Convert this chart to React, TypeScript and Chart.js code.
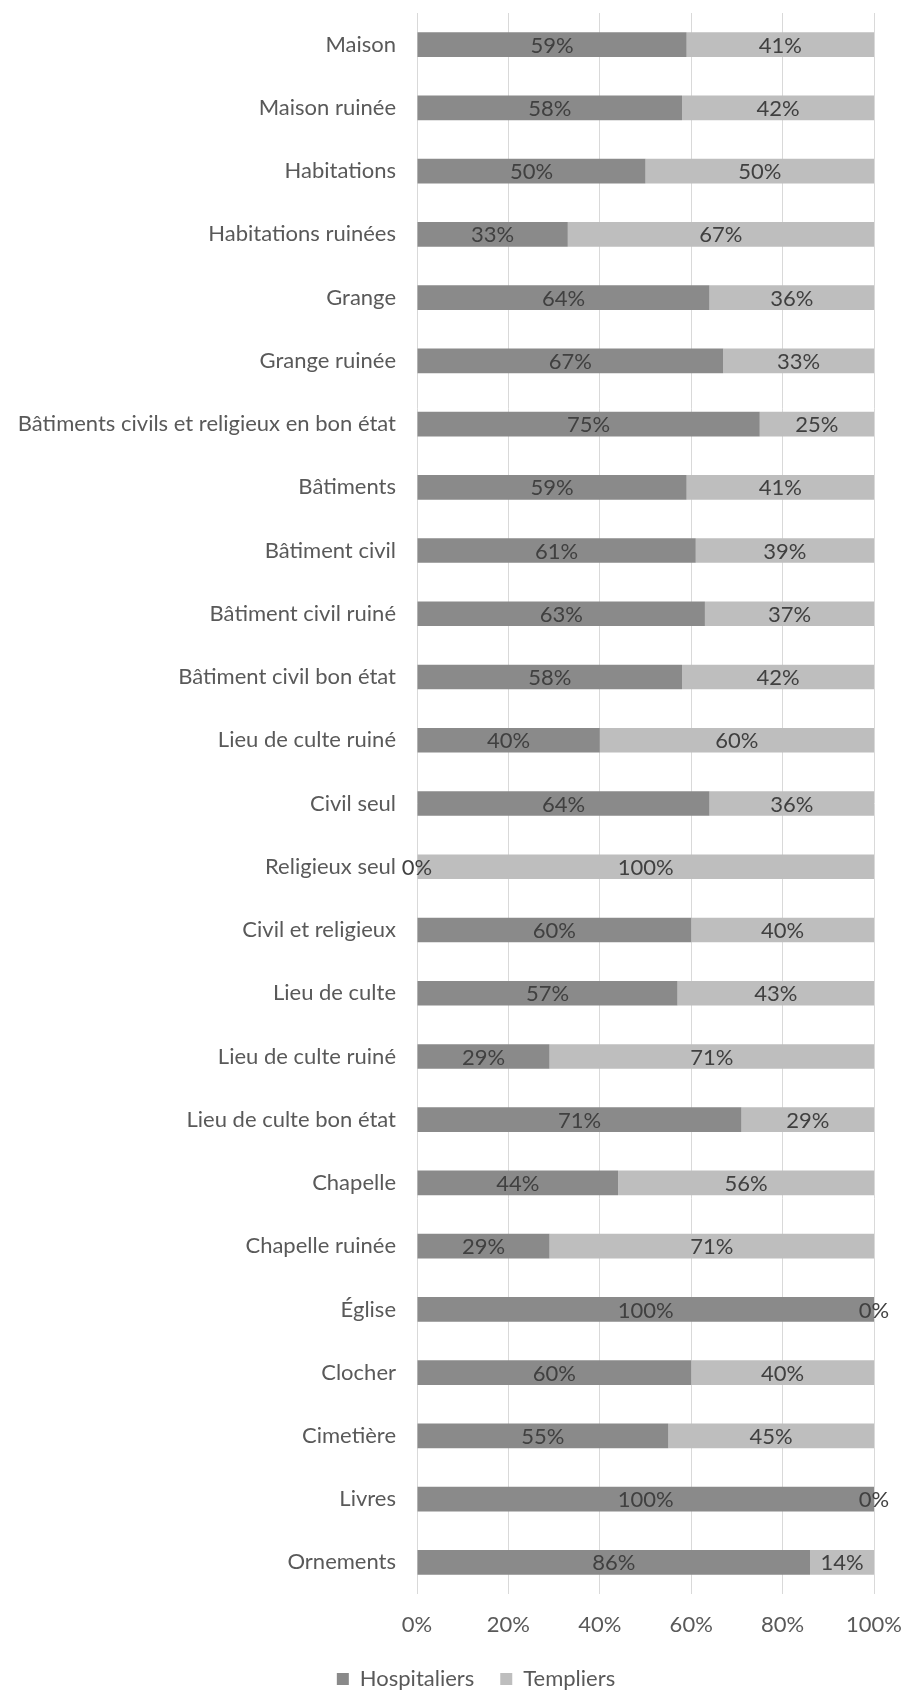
import React, { useEffect, useRef } from 'react';
import { Chart, registerables } from 'chart.js';

Chart.register(...registerables);

const categories = [
  'Maison',
  'Maison ruinée',
  'Habitations',
  'Habitations ruinées',
  'Grange',
  'Grange ruinée',
  'Bâtiments civils et religieux en bon état',
  'Bâtiments',
  'Bâtiment civil',
  'Bâtiment civil ruiné',
  'Bâtiment civil bon état',
  'Lieu de culte ruiné',
  'Civil seul',
  'Religieux seul',
  'Civil et religieux',
  'Lieu de culte',
  'Lieu de culte ruiné',
  'Lieu de culte bon état',
  'Chapelle',
  'Chapelle ruinée',
  'Église',
  'Clocher',
  'Cimetière',
  'Livres',
  'Ornements',
];

const hospitaliers = [59, 58, 50, 33, 64, 67, 75, 59, 61, 63, 58, 40, 64, 0, 60, 57, 29, 71, 44, 29, 100, 60, 55, 100, 86];
const templiers = [41, 42, 50, 67, 36, 33, 25, 41, 39, 37, 42, 60, 36, 100, 40, 43, 71, 29, 56, 71, 0, 40, 45, 0, 14];

const seriesNames = ['Hospitaliers', 'Templiers'];
const xTickValues = [0, 20, 40, 60, 80, 100];

const FONT = 'Lato';
const FONT_SIZE = 22;

const barLabelPlugin = {
  id: 'barLabels',
  afterDatasetsDraw(chart: any) {
    const ctx = chart.ctx;
    ctx.save();
    ctx.font = `${FONT_SIZE}px ${FONT}`;
    ctx.fillStyle = '#404040';
    ctx.textAlign = 'center';
    ctx.textBaseline = 'middle';
    chart.data.datasets.forEach((ds: any, di: number) => {
      const meta = chart.getDatasetMeta(di);
      meta.data.forEach((bar: any, i: number) => {
        const p = bar.getProps(['x', 'y', 'base'], true);
        const cx = (p.x + p.base) / 2;
        ctx.fillText(`${ds.data[i]}%`, cx, p.y + 1);
      });
    });
    ctx.restore();
  },
};

export default function App() {
  const ref = useRef<HTMLCanvasElement | null>(null);

  useEffect(() => {
    if (!ref.current) return;
    const chart = new Chart(ref.current, {
      type: 'bar',
      data: {
        labels: categories,
        datasets: [
          {
            label: seriesNames[0],
            data: hospitaliers,
            backgroundColor: '#8a8a8a',
            borderWidth: 0,
            barPercentage: 0.39,
            categoryPercentage: 1,
          },
          {
            label: seriesNames[1],
            data: templiers,
            backgroundColor: '#bebebe',
            borderWidth: 0,
            barPercentage: 0.39,
            categoryPercentage: 1,
          },
        ],
      },
      options: {
        indexAxis: 'y',
        responsive: false,
        animation: false,
        layout: { padding: { left: 0, right: -29, top: 13, bottom: -10 } },
        scales: {
          x: {
            stacked: true,
            min: 0,
            max: 100,
            afterBuildTicks: (scale: any) => {
              scale.ticks = xTickValues.map((v) => ({ value: v }));
            },
            afterFit: (scale: any) => {
              scale.height = 48;
            },
            grid: { color: '#d9d9d9', lineWidth: 1, drawTicks: false },
            border: { display: false },
            ticks: {
              padding: 18,
              color: '#595959',
              font: { family: FONT, size: FONT_SIZE },
              callback: (v: any) => `${v}%`,
            },
          },
          y: {
            stacked: true,
            grid: { display: false, drawTicks: false },
            border: { display: false },
            afterFit: (scale: any) => {
              scale.width = 417;
              scale.paddingTop = 0;
              scale.paddingBottom = 0;
            },
            ticks: {
              padding: 21,
              color: '#595959',
              font: { family: FONT, size: FONT_SIZE },
              autoSkip: false,
            },
          },
          spacer: {
            type: 'linear',
            position: 'right',
            grid: { display: false, drawTicks: false },
            border: { display: false },
            ticks: { display: false },
            afterFit: (scale: any) => {
              scale.width = 78;
              scale.paddingTop = 0;
              scale.paddingBottom = 0;
            },
          },
        },
        plugins: {
          legend: {
            position: 'bottom',
            labels: {
              boxWidth: 12,
              boxHeight: 12,
              padding: 26,
              color: '#595959',
              font: { family: FONT, size: FONT_SIZE },
            },
          },
          tooltip: { enabled: false },
        },
      },
      plugins: [barLabelPlugin],
    });
    return () => chart.destroy();
  }, []);

  return (
    <div style={{ position: 'absolute', left: 0, top: 0, width: 923, height: 1690 }}>
      <canvas ref={ref} width={923} height={1690} />
    </div>
  );
}
